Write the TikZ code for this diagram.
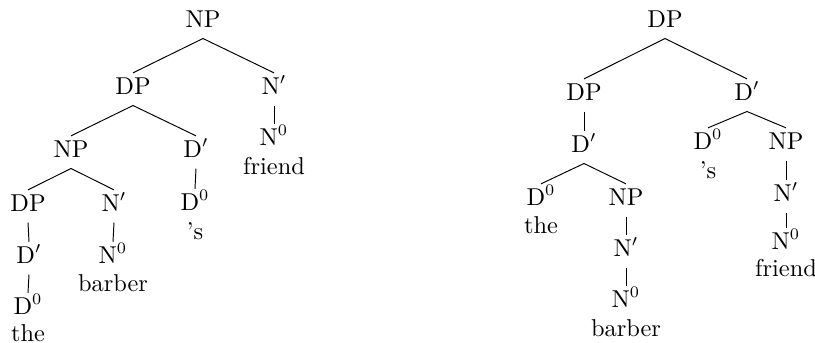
\documentclass[tikz,border=0pt]{standalone}
\usepackage{tikz}
\usetikzlibrary{positioning}
\tikzset{
  cat/.style={anchor=base, inner sep=1.8pt, text height=7.2pt, text depth=3pt,
    font=\fontsize{10.6}{12.6}\selectfont},
  word/.style={anchor=base, inner sep=0pt, font=\fontsize{10.6}{12.6}\selectfont},
  branch/.style={black, line width=0.42pt}
}
\newcommand{\barP}[1]{#1$'$}
\newcommand{\zeroP}[1]{#1$^0$}

\begin{document}
\begin{tikzpicture}[x=0.4348pt, y=-0.4348pt]
  \useasboundingbox (0,0) rectangle (815,343);

  % left tree: [NP [DP [NP [DP the] [N' barber]] [D' 's]] [N' friend]]
  \node[cat] (np1) at (203,27) {NP};
  \node[cat] (dp1) at (133,94) {DP};
  \node[cat] (nb1) at (274,94) {\barP{N}};
  \node[cat] (n01) at (274,145) {\zeroP{N}};
  \node[below=12.8pt of n01.base, word] (friend1) {friend};
  \node[cat] (np2) at (71,157) {NP};
  \node[cat] (db1) at (196,157) {\barP{D}};
  \node[cat] (d01) at (195,210) {\zeroP{D}};
  \node[below=12.8pt of d01.base, word] (s1) {'s};
  \node[cat] (dp3) at (28,211) {DP};
  \node[cat] (nb2) at (114,211) {\barP{N}};
  \node[cat] (db2) at (29,263) {\barP{D}};
  \node[cat] (d02) at (28,314) {\zeroP{D}};
  \node[below=11.9pt of d02.base, word] (the1) {the};
  \node[cat] (n02) at (113,263) {\zeroP{N}};
  \node[below=12.6pt of n02.base, word] (barber1) {barber};

  \draw[branch] (dp1.north) -- (np1.south) -- (nb1.north);
  \draw[branch] (nb1.south) -- (n01.north);
  \draw[branch] (np2.north) -- (dp1.south) -- (db1.north);
  \draw[branch] (db1.south) -- (d01.north);
  \draw[branch] (dp3.north) -- (np2.south) -- (nb2.north);
  \draw[branch] (dp3.south) -- (db2.north);
  \draw[branch] (db2.south) -- (d02.north);
  \draw[branch] (nb2.south) -- (n02.north);

  % right tree: [DP [DP [D' [D the] [NP [N' barber]]]] [D' [D 's] [NP [N' friend]]]]
  \node[cat] (dpR) at (665,27) {DP};
  \node[cat] (dpL) at (584,100) {DP};
  \node[cat] (dbR) at (747,100) {\barP{D}};
  \node[cat] (db3) at (584,152) {\barP{D}};
  \node[cat] (d03) at (541,205) {\zeroP{D}};
  \node[below=12.2pt of d03.base, word] (the2) {the};
  \node[cat] (np3) at (626,205) {NP};
  \node[cat] (nb3) at (626,256) {\barP{N}};
  \node[cat] (n03) at (626,307) {\zeroP{N}};
  \node[below=13pt of n03.base, word] (barber2) {barber};
  \node[cat] (d04) at (708,149) {\zeroP{D}};
  \node[below=13pt of d04.base, word] (s2) {'s};
  \node[cat] (np4) at (786,149) {NP};
  \node[cat] (nb4) at (786,201) {\barP{N}};
  \node[cat] (n04) at (786,249) {\zeroP{N}};
  \node[below=12pt of n04.base, word] (friend2) {friend};

  \draw[branch] (dpL.north) -- (dpR.south) -- (dbR.north);
  \draw[branch] (dpL.south) -- (db3.north);
  \draw[branch] (d03.north) -- (db3.south) -- (np3.north);
  \draw[branch] (np3.south) -- (nb3.north);
  \draw[branch] (nb3.south) -- (n03.north);
  \draw[branch] (d04.north) -- (dbR.south) -- (np4.north);
  \draw[branch] (np4.south) -- (nb4.north);
  \draw[branch] (nb4.south) -- (n04.north);
\end{tikzpicture}
\end{document}
